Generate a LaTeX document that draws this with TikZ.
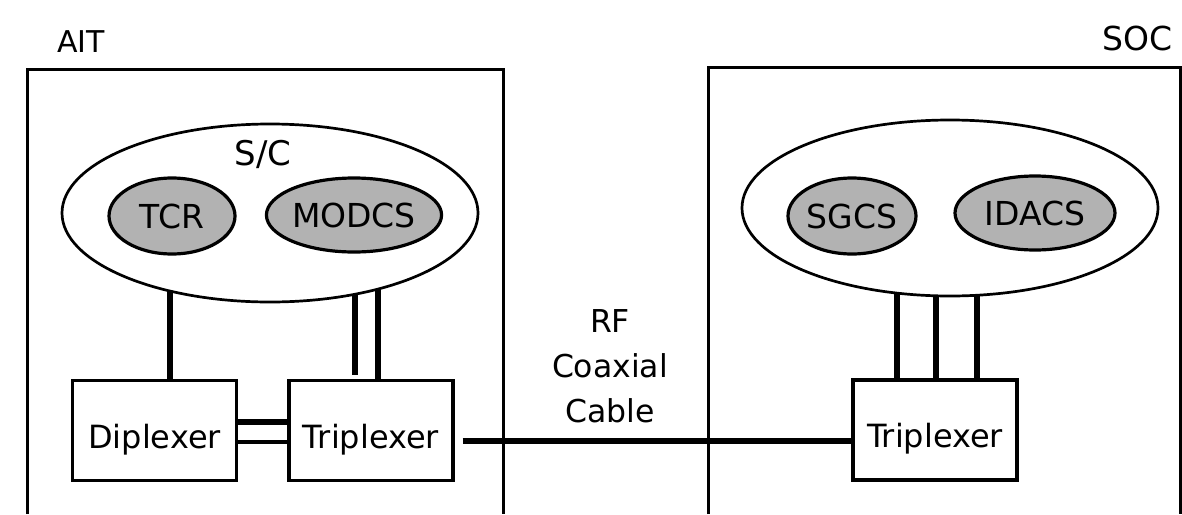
\documentclass[tikz,border=0pt]{standalone}
\usepackage{fontspec}
\setmainfont{DejaVu Sans}
\usetikzlibrary{shapes.geometric,backgrounds}
\begin{document}
\begin{tikzpicture}[x=1pt,y=-1pt,
  frame/.style={line width=3pt},
  bigell/.style={ellipse,draw,line width=2.7pt,fill=white,inner sep=0pt},
  subell/.style={ellipse,draw,line width=3.2pt,fill=black!30,inner sep=0pt,font=\fontsize{33}{36}\selectfont},
  blk/.style={rectangle,draw,line width=3.2pt,fill=white,minimum width=164pt,minimum height=100pt,inner sep=0pt,font=\fontsize{32}{36}\selectfont,text height=40pt,text depth=5pt},
  conn/.style={line width=5.5pt},
  thinconn/.style={line width=3.8pt},
  lbl/.style={inner sep=0pt,font=\fontsize{31}{36}\selectfont}]
\useasboundingbox (0,0) rectangle (1182,514);
% frames
\draw[frame] (27,514) -- (27,69) -- (503,69) -- (503,514);
\draw[frame] (708,514) -- (708,67) -- (1180,67) -- (1180,514);
% left group
\node[bigell,minimum width=416pt,minimum height=178pt] (sc) at (270,213) {};
\node[lbl,anchor=base,font=\fontsize{34}{36}\selectfont] (sclbl) at (263,165) {S/C};
\node[subell,minimum width=126pt,minimum height=76pt] (tcr) at (172,216) {TCR};
\node[subell,minimum width=162pt,minimum height=74pt] (modcs) at (354,215) {MODCS};
\node[blk] (dip) at (154.5,430.5) {Diplexer};
\node[blk] (trl) at (371,430.5) {Triplexer};
% right group
\node[bigell,minimum width=416pt,minimum height=176pt] (soc) at (950,208) {};
\node[subell,minimum width=124pt,minimum height=76pt] (sgcs) at (852,216) {SGCS};
\node[subell,minimum width=160pt,minimum height=74pt] (idacs) at (1035,213) {IDACS};
\node[blk] (trr) at (935,430) {Triplexer};
% labels
\node[lbl,anchor=base west,font=\fontsize{30}{34}\selectfont] (ait) at (57,52) {AIT};
\node[lbl,anchor=base east,font=\fontsize{33}{36}\selectfont] (soclbl) at (1173,50) {SOC};
\node[lbl,align=center,font=\fontsize{31.5}{45}\selectfont] (rf) at (610,366) {RF\\Coaxial\\Cable};
% connectors
\begin{scope}[on background layer]
\draw[conn] ([xshift=15.5pt]dip.north) -- ([xshift=15.5pt]dip.north |- sc.center);
\draw[conn] ([xshift=-16pt,yshift=4pt]trl.north) -- ([xshift=-16pt]trl.north |- sc.center);
\draw[conn] ([xshift=7pt]trl.north) -- ([xshift=7pt]trl.north |- sc.center);
\draw[conn] ([xshift=-38pt]trr.north) -- ([xshift=-38pt]trr.north |- soc.center);
\draw[conn] ([xshift=1pt]trr.north) -- ([xshift=1pt]trr.north |- soc.center);
\draw[conn] ([xshift=42pt]trr.north) -- ([xshift=42pt]trr.north |- soc.center);
\draw[conn] ([yshift=8.5pt]dip.east) -- ([yshift=8.5pt]dip.east -| trl.west);
\draw[thinconn] ([yshift=-11.5pt]dip.east) -- ([yshift=-11.5pt]dip.east -| trl.west);
\draw[conn] ([xshift=8pt,yshift=-10.5pt]trl.east) -- ([yshift=-10.5pt]trl.east -| trr.west);
\end{scope}
\end{tikzpicture}
\end{document}
